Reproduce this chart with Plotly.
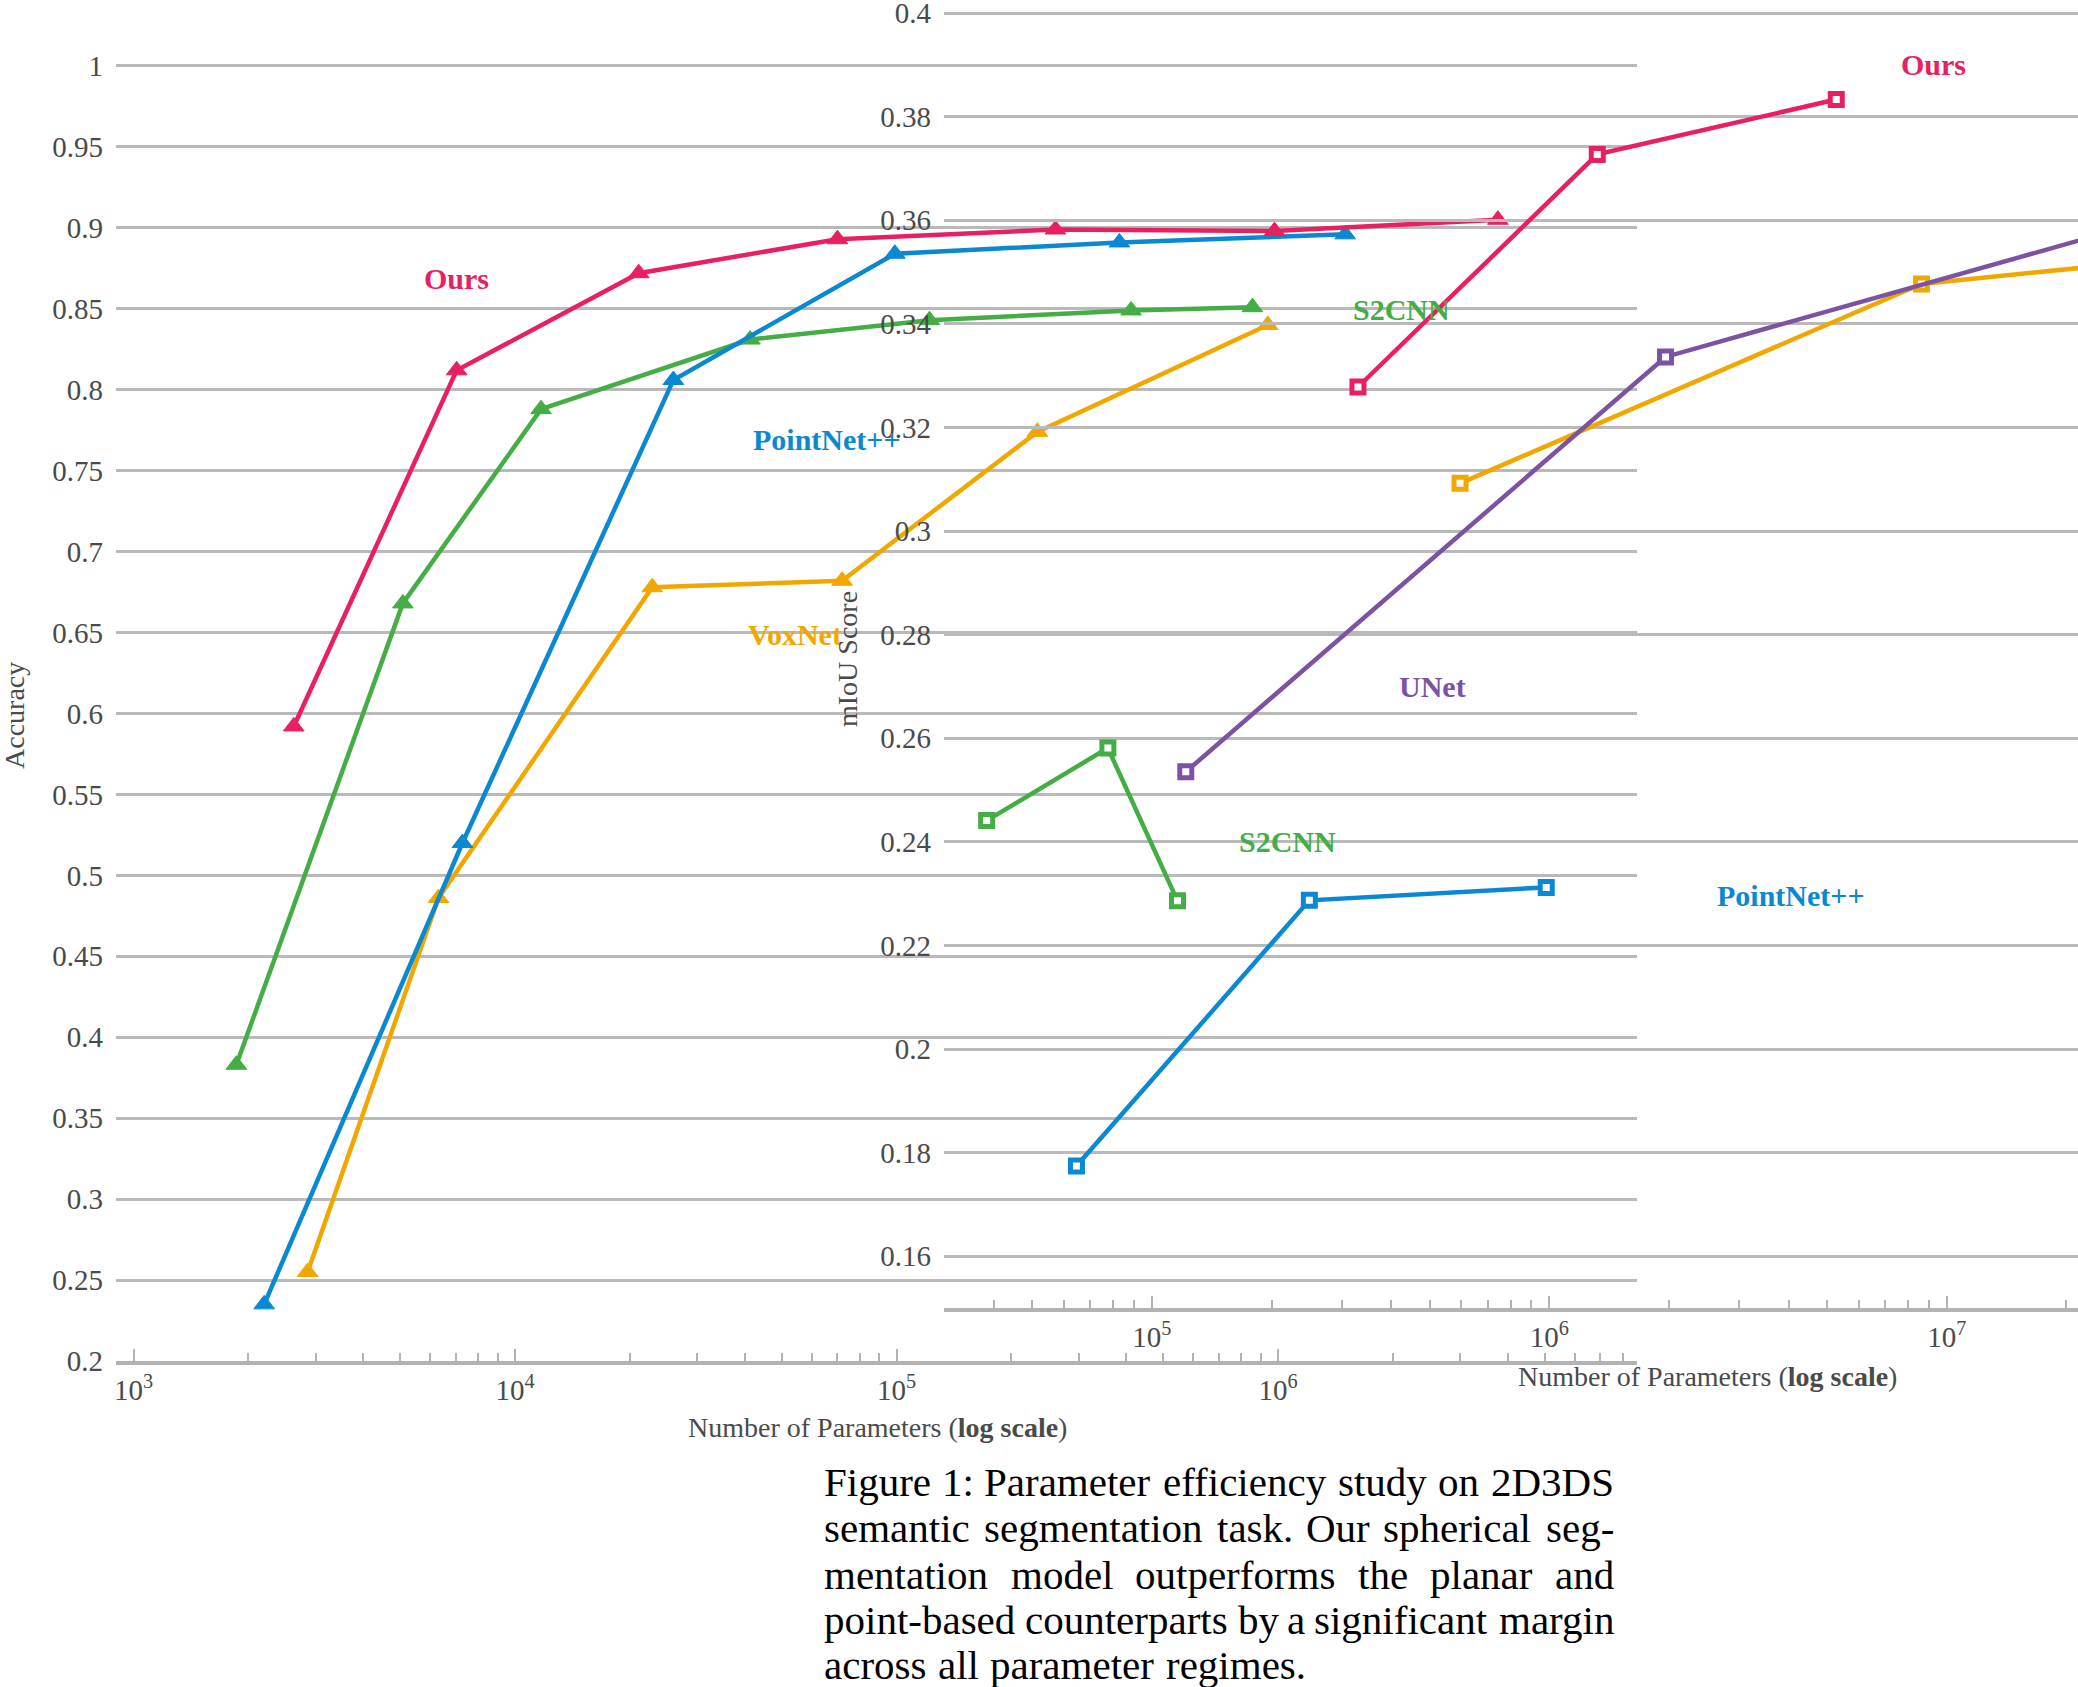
import plotly.graph_objects as go

# ---------------- data: left chart (Accuracy) ----------------
acc_params_ours = [2630, 7030, 21100, 70000, 261000, 979000, 3770000]
acc_ours = [0.592, 0.812, 0.872, 0.893, 0.899, 0.898, 0.905]

acc_params_pointnet = [2200, 7280, 26000, 99000, 384000, 1500000]
acc_pointnet = [0.235, 0.520, 0.806, 0.884, 0.891, 0.896]

acc_params_s2cnn = [1860, 5080, 11700, 41300, 122000, 412000, 857000]
acc_s2cnn = [0.383, 0.668, 0.788, 0.831, 0.843, 0.849, 0.851]

acc_params_voxnet = [2860, 6300, 22900, 72000, 234000, 940000]
acc_voxnet = [0.255, 0.486, 0.678, 0.682, 0.774, 0.840]

# ---------------- data: right chart (mIoU) ----------------
miou_params_ours = [330000, 1320000, 5270000]
miou_ours = [0.3278, 0.3727, 0.3833]

miou_params_unet = [121700, 1960000, 50000000]
miou_unet = [0.2535, 0.3336, 0.364]

miou_params_voxnet = [596000, 8630000, 50000000]
miou_voxnet = [0.3092, 0.3477, 0.3536]

miou_params_s2cnn = [38400, 77500, 116000]
miou_s2cnn = [0.2441, 0.2581, 0.2286]

miou_params_pointnet = [64600, 249000, 982000]
miou_pointnet = [0.1774, 0.2287, 0.2312]

# ---------------- ticks ----------------
acc_ticks = [0.2, 0.25, 0.3, 0.35, 0.4, 0.45, 0.5, 0.55, 0.6, 0.65, 0.7, 0.75, 0.8, 0.85, 0.9, 0.95, 1.0]
miou_ticks = [0.16, 0.18, 0.2, 0.22, 0.24, 0.26, 0.28, 0.3, 0.32, 0.34, 0.36, 0.38, 0.4]
left_decades = [3, 4, 5, 6]
right_decades = [5, 6, 7]

C_PINK = "#e8205f"
C_BLUE = "#0a88d2"
C_GREEN = "#44ad45"
C_ORANGE = "#f0a800"
C_PURPLE = "#7c52a3"
GRID = "#b9b9b9"
AXC = "#b3b3b3"
TICKC = "#4a4a4a"
FONT = "Liberation Serif"

W, H = 2078, 1687

fig = go.Figure()

def tri(x, y, color):
    fig.add_trace(go.Scatter(x=x, y=y, mode="lines+markers", xaxis="x", yaxis="y",
                             line=dict(color=color, width=4.5),
                             marker=dict(symbol="triangle-up", size=18, color=color,
                                         line=dict(color=color, width=1)),
                             showlegend=False, hoverinfo="skip"))

def sq(x, y, color):
    fig.add_trace(go.Scatter(x=x, y=y, mode="lines+markers", xaxis="x2", yaxis="y2",
                             line=dict(color=color, width=4.5),
                             marker=dict(symbol="square", size=12, color="white",
                                         line=dict(color=color, width=5)),
                             showlegend=False, hoverinfo="skip"))

tri(acc_params_voxnet, acc_voxnet, C_ORANGE)
tri(acc_params_s2cnn, acc_s2cnn, C_GREEN)
tri(acc_params_pointnet, acc_pointnet, C_BLUE)
tri(acc_params_ours, acc_ours, C_PINK)

sq(miou_params_pointnet, miou_pointnet, C_BLUE)
sq(miou_params_s2cnn, miou_s2cnn, C_GREEN)
sq(miou_params_voxnet, miou_voxnet, C_ORANGE)
sq(miou_params_unet, miou_unet, C_PURPLE)
sq(miou_params_ours, miou_ours, C_PINK)

def minors(decades, lo, hi):
    out = []
    for d in range(decades[0] - 1, decades[-1] + 1):
        for m in range(2, 10):
            v = m * 10 ** d
            if lo * 0.999 <= v <= hi:
                out.append(v)
    return out

tickfont = dict(family=FONT, size=29, color=TICKC)

def xaxis_cfg(domain, rng, decades, anchor):
    lo, hi = 10 ** rng[0], 10 ** rng[1]
    return dict(type="log", domain=domain, range=rng, anchor=anchor, automargin=False,
                showline=True, linecolor=AXC, linewidth=4,
                ticks="inside", ticklen=12, tickwidth=2, tickcolor=AXC,
                tickmode="array", tickvals=[10 ** d for d in decades],
                ticktext=[f"10<sup>{d}</sup>" for d in decades],
                minor=dict(tickmode="array", tickvals=minors(decades, lo, hi),
                           ticks="inside", ticklen=8, tickwidth=2, tickcolor=AXC,
                           showgrid=False),
                showgrid=False, zeroline=False, tickfont=tickfont,
                ticklabeloverflow="allow")

def yaxis_cfg(domain, rng, ticks, anchor):
    return dict(domain=domain, range=rng, anchor=anchor, automargin=False, tickmode="array",
                tickvals=ticks, ticktext=[f"{v:g}" for v in ticks],
                showgrid=True, gridcolor=GRID, gridwidth=2.5, zeroline=False,
                showline=False, ticks="", tickfont=tickfont, ticklabelstandoff=12,
                ticklabeloverflow="allow")

# left: 0.2 at px 1361, 1.0 at px 66  -> 1618.75 px per unit; top extended a little
# right: 0.15 at px 1308, 0.4 at px 13 -> 5180 px per unit; top extended a little
fig.update_layout(
    width=W, height=H, margin=dict(l=0, r=0, t=0, b=0, autoexpand=False),
    paper_bgcolor="white", plot_bgcolor="rgba(0,0,0,0)",
    xaxis=xaxis_cfg([116 / W, 1637 / W], [2.954, 6.941], left_decades, "y"),
    yaxis=yaxis_cfg([(H - 1361) / H, (H - 66 + 0.005 * 1618.75) / H], [0.2, 1.005], acc_ticks, "x"),
    xaxis2=xaxis_cfg([944 / W, 1.0], [4.477, 7.33], right_decades, "y2"),
    yaxis2=yaxis_cfg([(H - 1308) / H, (H - 13 + 0.0015 * 5180) / H], [0.15, 0.4015], miou_ticks, "x2"),
)

# series labels
labels = [
    ("x", "y", 3.847, 0.869, "Ours", C_PINK),
    ("x", "y", 4.817, 0.769, "PointNet++", C_BLUE),
    ("x", "y", 4.733, 0.649, "VoxNet", C_ORANGE),
    ("x2", "y2", 6.967, 0.390, "Ours", C_PINK),
    ("x2", "y2", 5.627, 0.3427, "S2CNN", C_GREEN),
    ("x2", "y2", 5.705, 0.2699, "UNet", C_PURPLE),
    ("x2", "y2", 5.340, 0.2400, "S2CNN", C_GREEN),
    ("x2", "y2", 6.609, 0.2297, "PointNet++", C_BLUE),
]
for xr, yr, x, y, t, c in labels:
    fig.add_annotation(xref=xr, yref=yr, x=x, y=y, text=f"<b>{t}</b>", showarrow=False,
                       xanchor="center", yanchor="middle",
                       font=dict(family=FONT, size=30, color=c))

# axis titles
title_font = dict(family=FONT, size=28, color=TICKC)
for (tx, ty, txt, ang) in [(877, 1427, "Number of Parameters (<b>log scale</b>)", 0),
                           (1707, 1376, "Number of Parameters (<b>log scale</b>)", 0),
                           (14, 716, "Accuracy", -90),
                           (848, 659, "mIoU Score", -90)]:
    fig.add_annotation(xref="paper", yref="paper", x=tx / W, y=1 - ty / H, textangle=ang,
                       xanchor="center", yanchor="middle", text=txt, showarrow=False,
                       font=title_font)

# caption (justified, Times-metric word widths)
TIMES_W = {" ": 250, "a": 444, "b": 500, "c": 444, "d": 500, "e": 444, "f": 333, "g": 500,
           "h": 500, "i": 278, "j": 278, "k": 500, "l": 278, "m": 778, "n": 500, "o": 500,
           "p": 500, "q": 500, "r": 333, "s": 389, "t": 278, "u": 500, "v": 500, "w": 722,
           "x": 500, "y": 500, "z": 444, "A": 722, "B": 667, "C": 667, "D": 722, "E": 611,
           "F": 556, "G": 722, "H": 722, "I": 333, "O": 722, "P": 556, "S": 556, "T": 611,
           ":": 278, ".": 250, ",": 250, "-": 333}
CAP_SIZE = 41
CAP_LEFT, CAP_RIGHT = 824, 1614

def word_w(w):
    return sum(TIMES_W.get(ch, 500) for ch in w) / 1000 * CAP_SIZE * 1.012

caption_lines = [
    "Figure 1: Parameter efficiency study on 2D3DS",
    "semantic segmentation task. Our spherical seg-",
    "mentation model outperforms the planar and",
    "point-based counterparts by a significant margin",
    "across all parameter regimes.",
]
caption_y = [1482, 1528, 1575, 1620, 1665]
for li, (line, yy) in enumerate(zip(caption_lines, caption_y)):
    words = line.split(" ")
    widths = [word_w(w) for w in words]
    justify = li < len(caption_lines) - 1
    gap = (CAP_RIGHT - CAP_LEFT - sum(widths)) / (len(words) - 1) if justify else 0.25 * CAP_SIZE
    x = CAP_LEFT
    for wi, (w, ww) in enumerate(zip(words, widths)):
        if justify and wi == len(words) - 1:
            px, anc = CAP_RIGHT, "right"
        else:
            px, anc = x, "left"
        fig.add_annotation(xref="paper", yref="paper", x=px / W, y=1 - yy / H,
                           xanchor=anc, yanchor="middle", text=w, showarrow=False,
                           borderpad=0, borderwidth=0,
                           font=dict(family=FONT, size=CAP_SIZE, color="black"))
        x += ww + gap

fig.write_html("out.html")
